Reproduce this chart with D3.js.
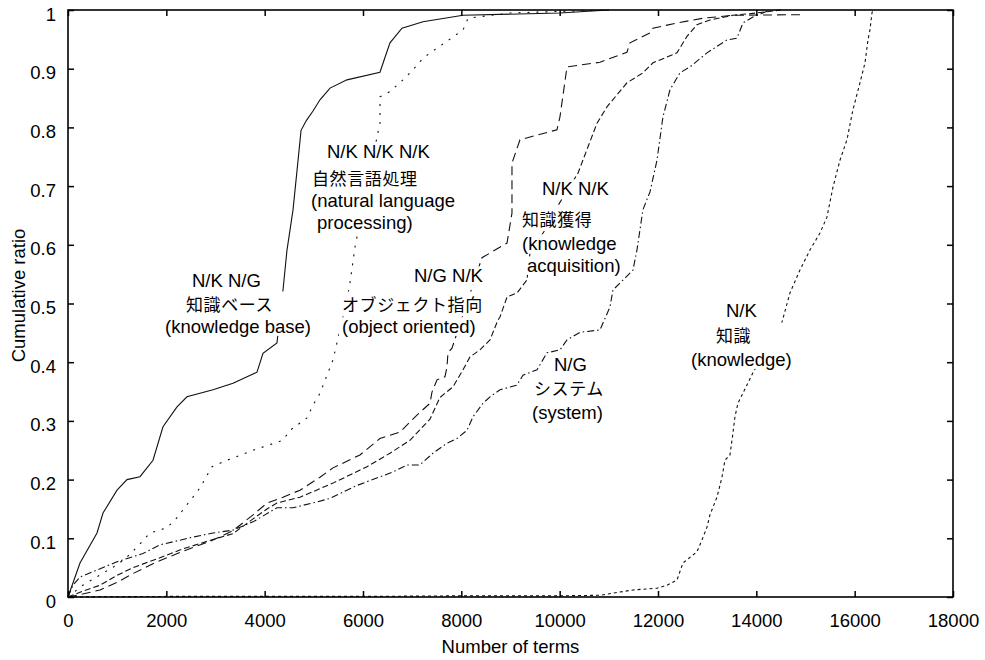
<!DOCTYPE html>
<html>
<head>
<meta charset="utf-8">
<script src="https://cdn.jsdelivr.net/npm/d3@7/dist/d3.min.js"></script>
<style>
  html, body { margin: 0; padding: 0; background: #fff; }
  svg { display: block; }
  text { font-family: "Liberation Sans", Arial, Helvetica, sans-serif; fill: #000; }
  .cjk { font-family: "Noto Sans CJK JP", "Noto Sans CJK SC", sans-serif; font-size: 17px; letter-spacing: 0.6px; }
</style>
</head>
<body>
<svg id="chart" width="985" height="660"></svg>
<script>
// ---------------- DATA ----------------
const xTickValues = [0, 2000, 4000, 6000, 8000, 10000, 12000, 14000, 16000, 18000];
const xTickLabels = ["0", "2000", "4000", "6000", "8000", "10000", "12000", "14000", "16000", "18000"];
const yTickValues = [0, 0.1, 0.2, 0.3, 0.4, 0.5, 0.6, 0.7, 0.8, 0.9, 1];
const yTickLabels = ["0", "0.1", "0.2", "0.3", "0.4", "0.5", "0.6", "0.7", "0.8", "0.9", "1"];
const xTitle = "Number of terms";
const yTitle = "Cumulative ratio";

// N/K N/G 知識ベース (knowledge base) — solid
const knowledgeBase = [[0,0],[244,0.058],[590,0.109],[712,0.143],[997,0.182],[1200,0.2],[1464,0.205],[1729,0.233],[1932,0.29],[2217,0.324],[2420,0.341],[2949,0.353],[3356,0.364],[3844,0.383],[3966,0.415],[4250,0.433],[4373,0.523],[4454,0.591],[4576,0.659],[4650,0.72],[4740,0.795],[4850,0.812],[4983,0.828],[5125,0.847],[5329,0.867],[5674,0.881],[6345,0.894],[6450,0.92],[6549,0.944],[6793,0.969],[7220,0.98],[8034,0.991],[10006,0.995],[11000,1]];
// N/K N/K N/K 自然言語処理 (natural language processing) — dotted
const naturalLanguage = [[0,0],[300,0.02],[700,0.04],[1000,0.055],[1200,0.068],[1403,0.085],[1668,0.109],[2013,0.118],[2217,0.135],[2380,0.153],[2522,0.168],[2685,0.186],[2929,0.222],[3234,0.233],[3763,0.25],[4372,0.267],[4515,0.284],[4861,0.305],[4983,0.327],[5125,0.347],[5390,0.404],[5532,0.455],[5674,0.506],[5735,0.535],[5837,0.596],[6300,0.79],[6345,0.807],[6345,0.852],[6549,0.861],[6814,0.881],[7017,0.898],[7220,0.918],[7505,0.935],[7830,0.954],[8034,0.966],[8136,0.986],[9000,0.995],[11000,1]];
// N/G N/K オブジェクト指向 (object oriented) — long dash
const objectOriented = [[0,0],[300,0.005],[651,0.012],[1000,0.025],[1322,0.04],[1810,0.06],[2339,0.078],[2949,0.097],[3356,0.113],[3763,0.14],[4047,0.16],[4373,0.17],[4718,0.182],[5125,0.204],[5390,0.22],[5938,0.242],[6345,0.27],[6752,0.281],[7098,0.31],[7362,0.33],[7403,0.349],[7505,0.37],[7667,0.375],[7708,0.392],[7728,0.416],[7810,0.424],[8420,0.578],[8583,0.586],[8929,0.603],[9030,0.654],[9030,0.739],[9193,0.779],[9945,0.796],[10006,0.818],[10149,0.903],[10820,0.911],[11369,0.928],[11430,0.944],[11837,0.961],[11898,0.969],[12386,0.978],[12914,0.986],[13524,0.991],[14887,0.992]];
// N/K N/K 知識獲得 (knowledge acquisition) — dash
const knowledgeAcquisition = [[0,0],[300,0.01],[651,0.02],[1000,0.037],[1322,0.05],[1810,0.065],[2339,0.082],[2949,0.098],[3356,0.108],[3763,0.133],[4047,0.15],[4250,0.16],[4718,0.17],[5390,0.194],[6081,0.222],[6549,0.245],[6956,0.267],[7362,0.303],[7566,0.34],[7830,0.358],[8034,0.387],[8176,0.409],[8379,0.421],[8583,0.438],[8745,0.472],[8786,0.477],[8929,0.511],[9132,0.518],[9335,0.54],[9396,0.586],[9701,0.625],[9945,0.664],[10372,0.722],[10759,0.807],[10962,0.835],[11369,0.876],[11694,0.893],[11898,0.91],[12386,0.927],[12589,0.955],[12792,0.975],[13057,0.983],[13524,0.991],[14012,0.995],[14500,1]];
// N/G システム (system) — dash-dot
const systemSeries = [[0,0],[100,0.02],[244,0.034],[590,0.046],[997,0.06],[1525,0.074],[1871,0.089],[2135,0.094],[2542,0.102],[2949,0.109],[3356,0.114],[3763,0.128],[4250,0.152],[4576,0.152],[5064,0.162],[5329,0.168],[5877,0.19],[6610,0.213],[6895,0.225],[7159,0.225],[7423,0.245],[7708,0.262],[7911,0.27],[8115,0.284],[8237,0.307],[8440,0.33],[8583,0.341],[8786,0.353],[9132,0.361],[9254,0.378],[9539,0.387],[9742,0.416],[10006,0.421],[10149,0.438],[10413,0.451],[10820,0.455],[11023,0.494],[11084,0.523],[11287,0.54],[11491,0.557],[11572,0.591],[11694,0.66],[11837,0.69],[11979,0.744],[12101,0.818],[12243,0.864],[12447,0.893],[12650,0.903],[12996,0.927],[13403,0.949],[13606,0.952],[13728,0.978],[13931,0.988],[14277,1]];
// N/K 知識 (knowledge) — short dash
const knowledge = [[0,0],[2000,0.001],[6000,0.001],[8000,0.002],[10000,0.002],[10820,0.003],[11491,0.012],[11979,0.015],[12182,0.02],[12386,0.029],[12508,0.058],[12792,0.077],[12894,0.097],[12996,0.119],[13057,0.14],[13199,0.17],[13301,0.204],[13362,0.233],[13464,0.242],[13524,0.279],[13565,0.307],[13626,0.33],[13931,0.382],[14521,0.468],[14684,0.518],[14887,0.557],[15090,0.591],[15294,0.62],[15436,0.647],[15558,0.698],[15701,0.744],[15843,0.779],[15965,0.83],[16108,0.876],[16210,0.91],[16271,0.949],[16311,0.966],[16352,0.995],[16373,1]];

// label texts
const labelKB = ["N/K N/G", "知識ベース", "(knowledge base)"];
const labelNLP = ["N/K N/K N/K", "自然言語処理", "(natural language", "processing)"];
const labelOO = ["N/G N/K", "オブジェクト指向", "(object oriented)"];
const labelKA = ["N/K N/K", "知識獲得", "(knowledge", "acquisition)"];
const labelSys = ["N/G", "システム", "(system)"];
const labelK = ["N/K", "知識", "(knowledge)"];

// ---------------- LAYOUT ----------------
const W = 985, H = 660;
const plot = { left: 68, right: 953, top: 10, bottom: 597 };
const fontSize = 18.5;

const series = [
  { data: knowledgeBase, dash: null },
  { data: naturalLanguage, dash: "2,7" },
  { data: objectOriented, dash: "9,5" },
  { data: knowledgeAcquisition, dash: "6,3" },
  { data: systemSeries, dash: "7,3,1.5,3" },
  { data: knowledge, dash: "3,3" }
];

// label layout: row start x, baseline y (pixels); blockFrom = rows merged into one mask
const labels = [
  { rows: labelKB, x: [192, 186, 165], y: [287, 311, 333], cjk: [false, true, false], blockFrom: 1 },
  { rows: labelNLP, x: [327, 312, 311, 317], y: [158, 185, 207, 229], cjk: [false, true, false, false], blockFrom: 0 },
  { rows: labelOO, x: [414, 342, 342], y: [282, 311, 333], cjk: [false, true, false], blockFrom: 99 },
  { rows: labelKA, x: [542, 522, 522, 527], y: [195, 226, 250, 272], cjk: [false, true, false, false], blockFrom: 99 },
  { rows: labelSys, x: [554, 534, 532], y: [371, 395, 419], cjk: [false, true, false], blockFrom: 99 },
  { rows: labelK, x: [726, 716, 691], y: [317, 342, 366], cjk: [false, true, false], blockFrom: 1 }
];
// mask extents above / below the baseline, in px
const maskLatin = { up: 15.7, down: 2.9 };
const maskCJK = { up: 19.5, down: 4.3 };

// ---------------- DRAW ----------------
const svg = d3.select("#chart");
svg.append("rect").attr("width", W).attr("height", H).attr("fill", "#fff");

const x = d3.scaleLinear().domain([0, 18000]).range([plot.left, plot.right]);
const y = d3.scaleLinear().domain([0, 1]).range([plot.bottom, plot.top]);

const line = d3.line().x(d => x(d[0])).y(d => y(d[1]));

const lineG = svg.append("g");
series.forEach(s => {
  lineG.append("path")
    .datum(s.data)
    .attr("d", line)
    .attr("fill", "none")
    .attr("stroke", "#111")
    .attr("stroke-width", 1.1)
    .attr("stroke-dasharray", s.dash);
});

// labels (one text element per label, one tspan per row) with white masks
const labG = svg.append("g");
labels.forEach(lb => {
  const g = labG.append("g");
  const maskG = g.append("g");
  const txt = g.append("text").attr("font-size", fontSize);
  const boxes = [];
  lb.rows.forEach((t, i) => {
    const ts = txt.append("tspan")
      .attr("x", lb.x[i]).attr("y", lb.y[i])
      .attr("class", lb.cjk[i] ? "cjk" : null)
      .text(t);
    const w = ts.node().getComputedTextLength();
    const m = lb.cjk[i] ? maskCJK : maskLatin;
    boxes.push({ x: lb.x[i], y: lb.y[i] - m.up, w: w, h: m.up + m.down });
  });
  const pad = 3;
  const block = boxes.filter((b, i) => i >= lb.blockFrom);
  boxes.forEach((b, i) => {
    if (i < lb.blockFrom) {
      maskG.append("rect").attr("x", b.x - pad).attr("y", b.y).attr("width", b.w + 2 * pad).attr("height", b.h).attr("fill", "#fff");
    }
  });
  if (block.length) {
    const x0 = d3.min(block, b => b.x) - pad, x1 = d3.max(block, b => b.x + b.w) + pad;
    const y0 = d3.min(block, b => b.y), y1 = d3.max(block, b => b.y + b.h);
    maskG.append("rect").attr("x", x0).attr("y", y0).attr("width", x1 - x0).attr("height", y1 - y0).attr("fill", "#fff");
  }
});

// frame
svg.append("rect")
  .attr("x", plot.left).attr("y", plot.top)
  .attr("width", plot.right - plot.left).attr("height", plot.bottom - plot.top)
  .attr("fill", "none").attr("stroke", "#000").attr("stroke-width", 1.6);

const tickLen = 6;
const styleAxis = g => {
  g.select(".domain").remove();
  g.selectAll(".tick line").attr("stroke", "#000").attr("stroke-width", 1.5);
  g.selectAll(".tick text").attr("font-size", fontSize).attr("font-family", "'Liberation Sans', Arial, Helvetica, sans-serif").attr("fill", "#000");
};

svg.append("g").attr("transform", `translate(0,${plot.bottom})`)
  .call(d3.axisBottom(x).tickValues(xTickValues).tickFormat((d, i) => xTickLabels[i]).tickSize(-tickLen).tickPadding(16.5))
  .call(styleAxis);
svg.append("g").attr("transform", `translate(0,${plot.top})`)
  .call(d3.axisTop(x).tickValues(xTickValues).tickFormat("").tickSize(-tickLen))
  .call(styleAxis);
const yAx = svg.append("g").attr("transform", `translate(${plot.left},0)`)
  .call(d3.axisLeft(y).tickValues(yTickValues).tickFormat((d, i) => yTickLabels[i]).tickSize(-tickLen).tickPadding(12))
  .call(styleAxis);
yAx.selectAll(".tick text").attr("dy", "0.54em");
svg.append("g").attr("transform", `translate(${plot.right},0)`)
  .call(d3.axisRight(y).tickValues(yTickValues).tickFormat("").tickSize(-tickLen))
  .call(styleAxis);

// titles
svg.append("text")
  .attr("x", (plot.left + plot.right) / 2).attr("y", 653)
  .attr("text-anchor", "middle").attr("font-size", fontSize)
  .text(xTitle);
svg.append("text")
  .attr("transform", `translate(25,${(plot.top + plot.bottom) / 2 - 8}) rotate(-90)`)
  .attr("text-anchor", "middle").attr("font-size", fontSize)
  .text(yTitle);
</script>
</body>
</html>
